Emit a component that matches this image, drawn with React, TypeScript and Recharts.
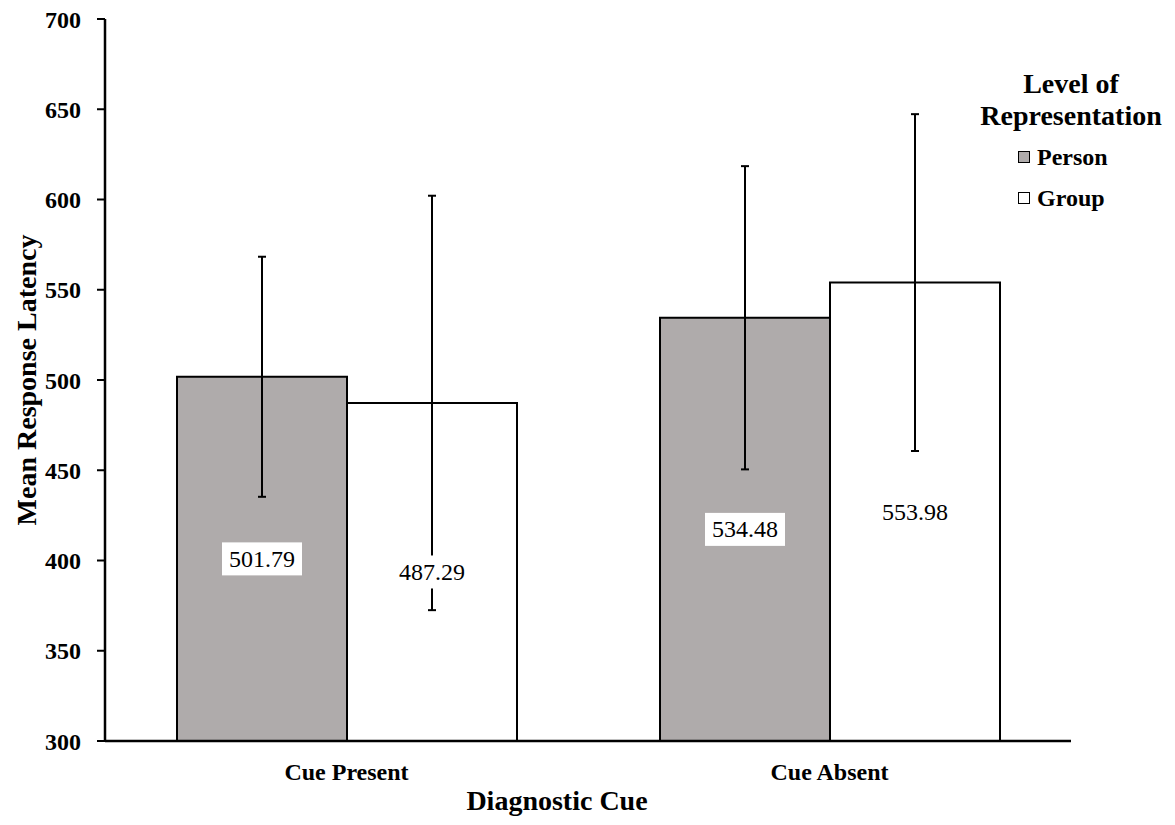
import React from 'react';
import { BarChart, Bar, XAxis, YAxis, ErrorBar, LabelList, Legend } from 'recharts';

const categories = ['Cue Present', 'Cue Absent'];
const personMeans = [501.79, 534.48];
const groupMeans = [487.29, 553.98];
const personErrors = [66.5, 84];
const groupErrors = [114.8, 93.3];
const yTicks = [300, 350, 400, 450, 500, 550, 600, 650, 700];
const seriesNames = ['Person', 'Group'];
const seriesFills = ['#AFABAB', '#FFFFFF'];

const data = categories.map((c, i) => ({
  category: c,
  person: personMeans[i],
  group: groupMeans[i],
  personErr: personErrors[i],
  groupErr: groupErrors[i],
}));

const FONT = '"Liberation Serif", "Times New Roman", serif';

const ValueLabel = (props: any) => {
  const { x, y, width, height, value } = props;
  const cx = x + width / 2;
  const cy = y + height / 2;
  const text = Number(value).toFixed(2);
  return (
    <g>
      <rect x={cx - 40} y={cy - 16.5} width={80} height={33} fill="#FFFFFF" />
      <text x={cx} y={cy} textAnchor="middle" dominantBaseline="central" fontFamily={FONT} fontSize={24} fill="#000">
        {text}
      </text>
    </g>
  );
};

const LegendContent = () => (
  <div style={{ position: 'relative', width: 222, height: 220, fontFamily: FONT, color: '#000' }}>
    <div style={{ position: 'absolute', top: 0, left: 0, width: 222, textAlign: 'center', fontWeight: 'bold', fontSize: 28, lineHeight: '32px' }}>
      Level of
      <br />
      Representation
    </div>
    {seriesNames.map((n, i) => (
      <div key={n} style={{ position: 'absolute', left: 58, top: 75 + i * 41, height: 28, display: 'flex', alignItems: 'center', fontWeight: 'bold', fontSize: 24 }}>
        <span style={{ display: 'inline-block', width: 10, height: 10, border: '1.5px solid #000', background: seriesFills[i], marginRight: 7 }} />
        <span>{n}</span>
      </div>
    ))}
  </div>
);

const YTitle = (props: any) => {
  const vb = props.viewBox || { x: 0, y: 0, width: 0, height: 0 };
  const cx = vb.x + 26;
  const cy = vb.y + vb.height / 2;
  return (
    <text x={cx} y={cy} transform={`rotate(-90 ${cx} ${cy})`} textAnchor="middle" dominantBaseline="central" fontFamily={FONT} fontWeight="bold" fontSize={28} fill="#000">
      Mean Response Latency
    </text>
  );
};

const XTitle = (props: any) => {
  const vb = props.viewBox || { x: 0, y: 0, width: 0, height: 0 };
  const cx = vb.x + vb.width / 2 - 31;
  const cy = vb.y + 59;
  return (
    <text x={cx} y={cy} textAnchor="middle" dominantBaseline="central" fontFamily={FONT} fontWeight="bold" fontSize={28} fill="#000">
      Diagnostic Cue
    </text>
  );
};

export default function App() {
  return (
    <div style={{ position: 'absolute', left: 0, top: 0, background: '#fff' }}>
      <BarChart
        width={1175}
        height={825}
        data={data}
        margin={{ top: 19, right: 104, bottom: 0, left: 0 }}
        barGap={0}
        barSize={170}
      >
        <XAxis
          dataKey="category"
          tickLine={false}
          tickSize={0}
          tickMargin={22}
          axisLine={{ stroke: '#000', strokeWidth: 2.5 }}
          tick={{ fill: '#000', fontFamily: FONT, fontWeight: 'bold', fontSize: 24 }}
          height={84}
          label={{ content: <XTitle /> }}
        />
        <YAxis
          width={105}
          domain={[300, 700]}
          ticks={yTicks}
          interval={0}
          tickSize={8}
          tickMargin={16}
          axisLine={{ stroke: '#000', strokeWidth: 2.5 }}
          tickLine={{ stroke: '#000', strokeWidth: 2 }}
          tick={{ fill: '#000', fontFamily: FONT, fontWeight: 'bold', fontSize: 24 }}
          label={{ content: <YTitle /> }}
        />
        <Legend
          layout="vertical"
          align="center"
          verticalAlign="middle"
          content={<LegendContent />}
          wrapperStyle={{ left: 960, top: 68, width: 222, height: 220 }}
        />
        <Bar dataKey="person" name="Person" fill={seriesFills[0]} stroke="#000" strokeWidth={2} isAnimationActive={false}>
          <ErrorBar dataKey="personErr" width={4} stroke="#000" strokeWidth={2} isAnimationActive={false} />
          <LabelList dataKey="person" content={<ValueLabel />} />
        </Bar>
        <Bar dataKey="group" name="Group" fill={seriesFills[1]} stroke="#000" strokeWidth={2} isAnimationActive={false}>
          <ErrorBar dataKey="groupErr" width={4} stroke="#000" strokeWidth={2} isAnimationActive={false} />
          <LabelList dataKey="group" content={<ValueLabel />} />
        </Bar>
      </BarChart>
    </div>
  );
}
